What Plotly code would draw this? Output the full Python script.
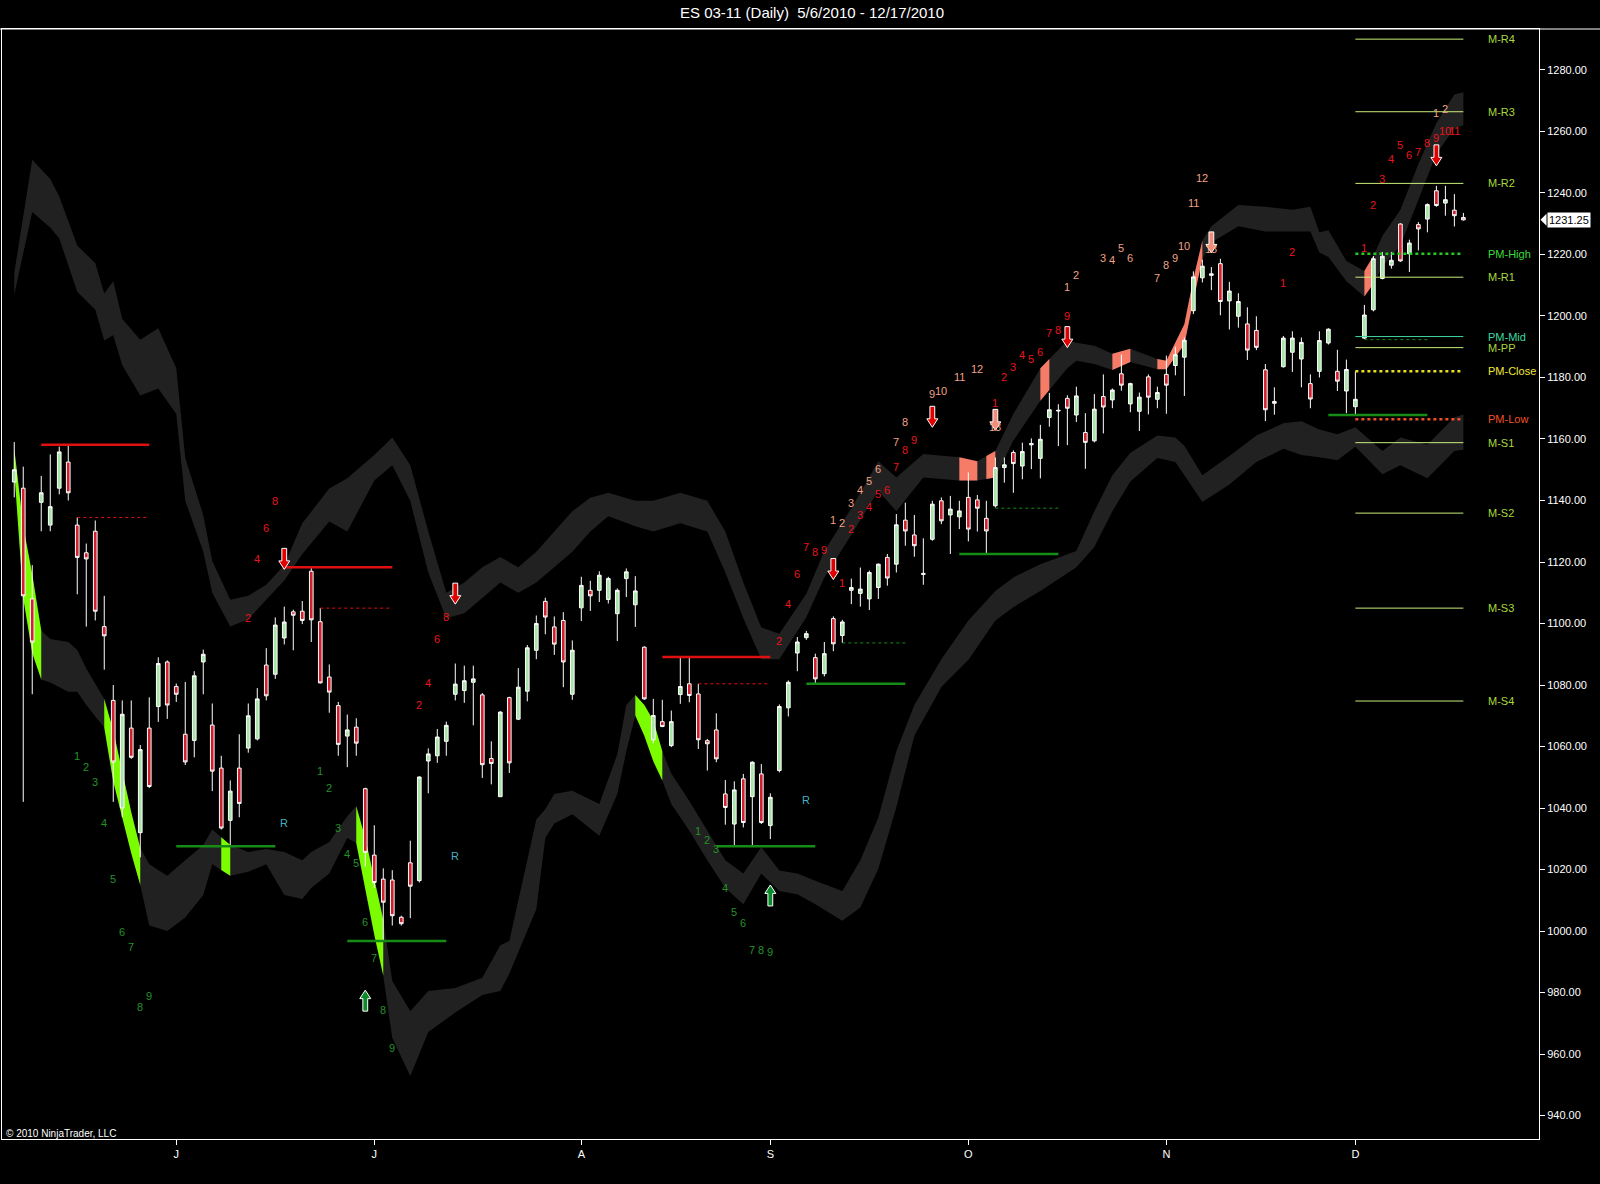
import numpy as np
import plotly.graph_objects as go

# ---------------- data ----------------
opens = [
    1146, 1144, 1108, 1139.4, 1132, 1144, 1152.5, 1132, 1123, 1130,
    1099, 1075, 1040, 1066, 1032, 1066, 1073, 1087.5, 1079.5, 1064,
    1062, 1087.5, 1067, 1053, 1036, 1053, 1059.5, 1062.5, 1086.5, 1083.5,
    1095.3, 1103.8, 1104, 1117, 1100.6, 1082.6, 1073.3, 1063.4, 1066.3, 1046.3,
    1024.7, 1016.9, 1016.6, 1004.5, 1022.2, 1016.4, 1055.3, 1057, 1061.7, 1077,
    1078.2, 1080.9, 1076.8, 1056.1, 1043.7, 1075.9, 1068.9, 1078, 1091.3, 1107.2,
    1098.9, 1101, 1077, 1105.1, 1110.8, 1110.8, 1107.8, 1103.2, 1114.6, 1106.1,
    1092.3, 1062.2, 1068.1, 1060.3, 1076.9, 1080.4, 1077.1, 1061.9, 1065.4, 1044.6,
    1034.8, 1049.5, 1043.7, 1051.1, 1034.3, 1052.2, 1072.6, 1090.4, 1095.4, 1088.9,
    1083.7, 1101.6, 1096.1, 1110.8, 1109.8, 1108, 1111.7, 1121.5, 1119.3, 1133.6,
    1128.8, 1116.3, 1127.4, 1139.9, 1135.3, 1134.7, 1141, 1140.2, 1134.2, 1138.3,
    1150.7, 1155.6, 1151.2, 1158.1, 1153.7, 1167, 1169.1, 1173.2, 1167.8, 1162.1,
    1159.4, 1173.8, 1172.7, 1181.2, 1171.4, 1169, 1180.2, 1172.9, 1181, 1183.9,
    1186.6, 1201.7, 1212.4, 1213.2, 1217, 1204.9, 1199.9, 1197.4, 1195.3, 1182.5,
    1172.2, 1183.5, 1188.2, 1186, 1178, 1182, 1191.2, 1182, 1175.6, 1170.5,
    1192.8, 1202, 1212.2, 1216.5, 1229.9, 1220.2, 1229.7, 1231.5, 1240.7, 1236.7,
    1234.4, 1232,
]
highs = [
    1159, 1151, 1119, 1148, 1155, 1157.5, 1158, 1134.5, 1126, 1133.5,
    1109, 1080, 1075, 1075, 1060.5, 1076, 1089, 1088, 1080.5, 1081,
    1084.5, 1091.5, 1074, 1057, 1049, 1064, 1074, 1079, 1092, 1102,
    1105.5, 1104.5, 1107.3, 1118.3, 1105, 1086.7, 1074.5, 1070.4, 1069.2, 1046.6,
    1034.4, 1020.4, 1019.8, 1005, 1029.4, 1050.3, 1059.4, 1065.7, 1068.1, 1087,
    1086.3, 1086.3, 1077.4, 1061.7, 1071.5, 1076.2, 1085.5, 1093, 1102.6, 1108.4,
    1102.3, 1103.7, 1094.5, 1115.2, 1113.9, 1117, 1115.2, 1111.4, 1117.9, 1115.4,
    1092.6, 1075.5, 1075.2, 1071.7, 1089.3, 1089.3, 1080.4, 1062.5, 1070.8, 1049.1,
    1048.7, 1051.1, 1055.2, 1054.3, 1044.8, 1073.7, 1081.5, 1095.6, 1097.6, 1090.2,
    1094, 1102.3, 1101.2, 1114.6, 1118.2, 1117.2, 1119.5, 1122.6, 1135.6, 1139.3,
    1135.3, 1127.7, 1139.9, 1141, 1141.5, 1139.9, 1149.1, 1141.8, 1139.9, 1154,
    1154, 1156.3, 1158.8, 1160.2, 1164.6, 1175, 1171.3, 1174.2, 1177, 1168.4,
    1174.6, 1181, 1176.4, 1187.4, 1178.3, 1175.1, 1181, 1177, 1187.1, 1190,
    1193, 1214.5, 1218.3, 1215.9, 1218.6, 1211.1, 1207.4, 1202.8, 1199.9, 1184.4,
    1176.8, 1193.5, 1195, 1193, 1181, 1195, 1196, 1189, 1185.8, 1182,
    1203.6, 1219.5, 1220.8, 1220.8, 1230.1, 1224.8, 1230.5, 1236.6, 1242.3, 1242.3,
    1239.6, 1233.5,
]
lows = [
    1141, 1042, 1077, 1130, 1130, 1142, 1140, 1109.5, 1099, 1101,
    1085, 1042, 1037, 1056, 1024, 1046.5, 1068, 1069, 1074.5, 1054,
    1056.5, 1077, 1045.5, 1033, 1027.5, 1037, 1058, 1062, 1075, 1082,
    1093.2, 1091.3, 1099.8, 1094, 1080.5, 1071, 1057, 1053.3, 1057, 1021,
    1014, 996.6, 1001.8, 1001.8, 1004.2, 1015.8, 1044.8, 1054.7, 1057, 1075,
    1074.2, 1066.9, 1049.8, 1047.7, 1043.7, 1051.4, 1068.6, 1074.7, 1088.4, 1096.5,
    1089.8, 1079.3, 1075.2, 1100.8, 1104.1, 1107, 1106.5, 1094.3, 1108.6, 1098.9,
    1075.2, 1061.1, 1066.3, 1059.8, 1073.9, 1074.4, 1059.2, 1052.2, 1054.9, 1034.6,
    1027.7, 1033.7, 1027.7, 1034.8, 1029.9, 1051.6, 1069.8, 1084.5, 1094.7, 1080.2,
    1082.8, 1091, 1093.7, 1106.3, 1105.5, 1104.4, 1108, 1112.3, 1116.6, 1125.3,
    1121.7, 1112.6, 1126.9, 1132.3, 1122.6, 1130.7, 1126.7, 1129.9, 1122.4, 1137.7,
    1145.8, 1142.5, 1146.9, 1150.2, 1147.2, 1164, 1157.7, 1158, 1165.5, 1150.3,
    1158.9, 1161.8, 1170, 1175.7, 1168.7, 1162.6, 1168, 1170, 1168.2, 1180.7,
    1174, 1200.6, 1210.9, 1208.4, 1200.2, 1195.6, 1196.2, 1185.7, 1188.9, 1165.8,
    1167.9, 1183.2, 1181.8, 1176.8, 1170, 1180, 1190.7, 1175.6, 1168.4, 1167.8,
    1192.5, 1201.5, 1211.9, 1215.4, 1217.6, 1214.3, 1221.3, 1227.2, 1235.5, 1232.6,
    1229.1, 1231,
]
closes = [
    1150, 1109, 1094, 1142.5, 1138, 1155.8, 1142.5, 1121.5, 1121, 1104,
    1096, 1055, 1070.5, 1056.5, 1059, 1047, 1087, 1073.5, 1077, 1055,
    1083, 1090, 1052, 1033.5, 1045.5, 1041.5, 1070, 1075.5, 1076.5, 1099.5,
    1100.5, 1102.7, 1101, 1101.2, 1080.7, 1077.7, 1060.7, 1065.4, 1061.1, 1025.6,
    1015.8, 1009.4, 1005, 1002.4, 1014.6, 1050.1, 1057.6, 1063.1, 1066.9, 1080.3,
    1081.4, 1082, 1054.1, 1054.5, 1071.2, 1054.7, 1079.3, 1092.1, 1100, 1102.1,
    1093.3, 1087.5, 1091.3, 1112.4, 1109, 1115.7, 1114.6, 1110.8, 1116.8, 1110.6,
    1075.5, 1070.1, 1066.5, 1068.1, 1079.5, 1076.6, 1062.2, 1060.9, 1056, 1040.2,
    1045.9, 1035.3, 1054.9, 1035.3, 1043.5, 1073, 1080.9, 1094, 1096.7, 1082,
    1090.2, 1093.4, 1100.5, 1111.7, 1111.2, 1116.6, 1119.3, 1114.8, 1132.1, 1130.1,
    1125.3, 1116, 1138.8, 1133.4, 1137.2, 1136.6, 1130.7, 1137.5, 1130.1, 1150.7,
    1151.6, 1152, 1155.9, 1158.5, 1159.9, 1169.5, 1169.3, 1170, 1174, 1158.9,
    1169.7, 1170.4, 1175.9, 1177.5, 1178, 1173.6, 1173.6, 1175.1, 1177.5, 1187.4,
    1192.1, 1212.7, 1216.2, 1213.7, 1204.7, 1208.1, 1204.7, 1188.9, 1189.8, 1169.5,
    1171.6, 1192.8, 1192.8, 1191.4, 1173, 1192, 1195.7, 1178.8, 1182.6, 1172.9,
    1200.3, 1218.6, 1219.4, 1218.1, 1217.9, 1223.7, 1228.3, 1236.2, 1235.9, 1237.8,
    1232.6, 1231.25,
]
bars = list(range(len(closes)))

month_ticks = [18, 40, 63, 84, 106, 128, 149]
month_labels = ["J", "J", "A", "S", "O", "N", "D"]
price_ticks = list(range(940, 1281, 20))

# upper band (bar, top, bottom)
ub_bar = [0, 2, 4, 5, 7, 9, 10, 11, 12, 14, 16, 18, 19, 21, 22, 24, 26, 28, 30, 32,
          35, 37, 40, 42, 44, 46, 48, 50, 52, 54, 56, 58, 62, 64, 66, 69, 71, 74, 77, 79,
          81, 83, 85, 88, 90, 93, 96, 98, 101, 105, 107, 109, 111, 114, 117, 118, 120, 122, 124, 127,
          128, 130, 131, 132, 133, 136, 139, 142, 144, 145, 146, 148, 150, 151, 152, 154, 156, 158, 160, 161]
ub_top = [1214, 1250.8, 1244.5, 1238.8, 1222.9, 1217.2, 1207.3, 1211.3, 1199, 1192.3, 1196, 1183, 1153.8, 1135.2, 1120.3, 1107.7, 1109, 1112.6, 1119, 1132.6,
          1143.9, 1147.2, 1154.8, 1160.5, 1151.5, 1129.9, 1110, 1113.3, 1118.3, 1121.6, 1118.3, 1123.3, 1136.5, 1140.9, 1142.5, 1139.9, 1139.9, 1142.5, 1139.9, 1129.9,
          1113.3, 1098.7, 1096.7, 1109.7, 1123.6, 1137.5, 1152.8, 1147.5, 1155.1, 1154.1, 1152.8, 1156.1, 1168.1, 1183, 1192, 1191.3, 1190.3, 1187.7, 1189.3, 1186,
          1185.4, 1197.3, 1212, 1224.5, 1229.2, 1236.1, 1235.5, 1234.5, 1235.5, 1227.2, 1227.9, 1217.9, 1214.6, 1219.5, 1226, 1234.5, 1249.4, 1262.7, 1272, 1272.7]
ub_bot = [1207, 1233.8, 1228.8, 1225.2, 1207.9, 1202, 1192, 1193.7, 1184, 1174.1, 1176.4, 1168.1, 1139.9, 1123.3, 1110, 1099, 1101.4, 1107.7, 1114, 1122.6,
          1133.2, 1129.9, 1146.5, 1151.5, 1139.9, 1116.6, 1101.7, 1103.3, 1108.3, 1113.3, 1110, 1113.3, 1123.3, 1129.9, 1134.9, 1131.6, 1129.9, 1132.6, 1129.9, 1116.6,
          1101.7, 1088.4, 1088.4, 1102, 1115, 1128.9, 1143.2, 1136.5, 1147.5, 1146.5, 1146.5, 1147.5, 1159.5, 1172.4, 1183, 1185.4, 1184.4, 1182.4, 1185, 1182.7,
          1182.7, 1190.7, 1205, 1218.5, 1223.9, 1229.2, 1227.5, 1227.5, 1227.5, 1220.6, 1219.2, 1211.3, 1206.3, 1210.5, 1216, 1222.9, 1237.8, 1252.7, 1261, 1262]

# lower band (bar, top, bottom)
lb_bar = [0, 1, 2, 3, 4, 6, 7, 8, 10, 11, 12, 13, 14, 15, 17, 19, 21, 22, 24, 26,
          28, 30, 32, 33, 35, 37, 38, 39, 40, 41, 42, 44, 46, 49, 52, 54, 55, 58, 59, 60,
          62, 65, 67, 68, 69, 70, 71, 72, 73, 75, 77, 79, 81, 83, 85, 87, 89, 92, 94, 96,
          98, 100, 103, 106, 109, 111, 114, 118, 120, 122, 124, 127, 129, 130, 132, 135, 138, 141, 143, 145,
          147, 149, 152, 154, 157, 160, 161]
lb_top = [1157, 1131.6, 1116, 1097.7, 1095, 1094, 1091.4, 1085.4, 1075.5, 1065.2, 1051.9, 1038.6, 1027, 1021.7, 1018, 1023, 1028, 1033, 1028, 1025.7,
          1026.7, 1025.7, 1023, 1025.7, 1029, 1037.3, 1040.6, 1030.3, 1017, 1003.7, 983.8, 973.9, 980.5, 981.5, 984.8, 995.4, 996.8, 1036.3, 1039.6, 1044.6,
          1045.6, 1041.3, 1057.5, 1073.5, 1076.8, 1073.5, 1068.5, 1058.5, 1051.2, 1042.3, 1032.6, 1023, 1018.7, 1027.3, 1019.7, 1018.7, 1016.4, 1013, 1023, 1036.9,
          1058.5, 1073.5, 1088.4, 1101, 1110.6, 1115, 1119.3, 1123.6, 1136.5, 1148.2, 1155.5, 1161.1, 1160.5, 1157.8, 1148.2, 1154.5, 1161.1, 1165.1, 1165.8, 1163.1,
          1161.5, 1163.8, 1156.1, 1160.5, 1158.1, 1167.1, 1168]
lb_bot = [1150, 1108.3, 1090.4, 1081.8, 1080.8, 1077.8, 1077.8, 1073.5, 1066.2, 1048.6, 1036.9, 1025.3, 1015, 1001.8, 1000, 1004.4, 1011.7, 1021.7, 1018, 1019.3,
          1021.7, 1011.7, 1010.4, 1014, 1018.7, 1030.3, 1028.6, 1013.7, 998.8, 985.5, 965.2, 952.9, 967.2, 973.5, 979.2, 980.5, 986.1, 1007.1, 1030.3, 1035,
          1038, 1031, 1044.6, 1058.5, 1070.1, 1063.5, 1055.2, 1049, 1041.3, 1032.6, 1023, 1014, 1008.7, 1018.7, 1013, 1012, 1008.7, 1003.4, 1007.7, 1020.3,
          1040.3, 1063.5, 1079.4, 1088.1, 1101, 1105.3, 1110.6, 1118.3, 1124.9, 1136.5, 1146.2, 1153.8, 1152.5, 1148.2, 1139.5, 1145.2, 1152.5, 1156.8, 1154.8, 1154.1,
          1153.1, 1157.5, 1148.5, 1151.5, 1147.2, 1156.1, 1156.5]

green_segments = [(0, 3), (10, 14), (23, 24), (38, 41), (69, 72)]
salmon_segments = [(105, 107), (108, 109), (114, 115), (122, 124), (127, 132), (150, 151)]

# TD counts (bar, price, label)
green_counts = [(7, 1056.9, "1"), (8, 1053.5, "2"), (9, 1048.6, "3"), (10, 1035, "4"), (11, 1017, "5"),
                (12, 999.8, "6"), (13, 994.8, "7"), (14, 975.2, "8"), (15, 978.8, "9"),
                (34, 1052.2, "1"), (35, 1046.6, "2"), (36, 1033.6, "3"), (37, 1025, "4"), (38, 1022, "5"),
                (39, 1003.1, "6"), (40, 991.1, "7"), (41, 974.5, "8"), (42, 961.9, "9"),
                (76, 1032.6, "1"), (77, 1029.6, "2"), (78, 1026.7, "3"), (79, 1014, "4"), (80, 1006.1, "5"),
                (81, 1002.7, "6"), (82, 993.8, "7"), (83, 993.8, "8"), (84, 993.1, "9")]
red_counts = [(26, 1101.7, "2"), (27, 1121, "4"), (28, 1131.2, "6"), (29, 1139.9, "8"),
              (45, 1073.5, "2"), (46, 1080.8, "4"), (47, 1095, "6"), (48, 1102, "8"),
              (85, 1094.4, "2"), (86, 1106.3, "4"), (87, 1116, "6"), (88, 1124.9, "7"), (89, 1123.3, "8"), (90, 1123.9, "9"),
              (92, 1113.3, "1"), (93, 1130.6, "2"), (94, 1135.2, "3"), (95, 1137.9, "4"), (96, 1142.2, "5"),
              (97, 1143.5, "6"), (98, 1150.8, "7"), (99, 1156.5, "8"), (100, 1159.8, "9"),
              (109, 1171.7, "1"), (110, 1180, "2"), (111, 1183.4, "3"), (112, 1187.3, "4"), (113, 1186, "5"),
              (114, 1188.3, "6"), (115, 1194.6, "7"), (116, 1195.3, "8"), (117, 1200, "9"),
              (141, 1210.6, "1"), (142, 1220.9, "2"),
              (150, 1222.2, "1"), (151, 1236.1, "2"), (152, 1244.4, "3"), (153, 1251.1, "4"), (154, 1255.7, "5"),
              (155, 1252.4, "6"), (156, 1253.4, "7"), (157, 1256.1, "8"), (158, 1257.7, "9"), (159, 1260, "10"), (160, 1260, "11")]
salmon_counts = [(91, 1133.6, "1"), (92, 1132.6, "2"), (93, 1139.2, "3"), (94, 1143.5, "4"), (95, 1146.2, "5"),
                 (96, 1150.2, "6"), (98, 1159.1, "7"), (99, 1165.4, "8"), (102, 1174.7, "9"), (103, 1175.7, "10"),
                 (105, 1180, "11"), (107, 1182.7, "12"), (109, 1163.8, "13"),
                 (117, 1209.3, "1"), (118, 1213.2, "2"), (121, 1218.9, "3"), (122, 1218.2, "4"), (123, 1222.2, "5"),
                 (124, 1218.9, "6"), (127, 1212.2, "7"), (128, 1216.6, "8"), (129, 1218.9, "9"), (130, 1222.9, "10"),
                 (131, 1236.8, "11"), (132, 1244.8, "12"), (133, 1221.9, "13"),
                 (158, 1266, "1"), (159, 1267.4, "2")]
r_marks = [(30, 1035), (49, 1024.3), (88, 1042.6)]

# arrows (bar, tip price)
down_arrows_red = [(30, 1117.6), (49, 1106.3), (91, 1114.3), (102, 1163.8), (117, 1189.7), (158, 1248.8)]
down_arrows_pink = [(109, 1162.8), (133, 1220.5)]
up_arrows_green = [(39, 980.8), (84, 1015)]

# TDST lines (start bar, end bar, price)
red_solid = [(3, 15, 1158.1), (30, 42, 1118.3), (72, 84, 1089.1)]
red_dash = [(7, 15, 1134.5), (34, 42, 1105), (76, 84, 1080.4)]
green_solid = [(18, 29, 1027.6), (37, 48, 996.8), (78, 89, 1027.6), (88, 99, 1080.4), (105, 116, 1122.6), (146, 157, 1167.8)]
green_dash = [(92, 99, 1093.7), (109, 116, 1137.5), (150, 157, 1192.3)]

# monthly pivots
pivot_names = ["M-R4", "M-R3", "M-R2", "PM-High", "M-R1", "PM-Mid", "M-PP", "PM-Close", "PM-Low", "M-S1", "M-S2", "M-S3", "M-S4"]
pivot_values = [1290, 1266.4, 1243.1, 1220.2, 1212.6, 1193.3, 1189.7, 1182, 1166.4, 1158.8, 1135.9, 1105, 1074.8]
pivot_start, pivot_end = 149, 161
last_price = 1231.25

# ---------------- layout constants ----------------
W, H = 1600, 1184
ML, MR, MT, MB = 2, 61, 29, 45
X0, X1 = -1.36, 169.4
Y0, Y1 = 932.4, 1293.3
PW, PH = W - ML - MR, H - MT - MB
PX_X = PW / (X1 - X0)
PX_Y = PH / (Y1 - Y0)
FONT = "Liberation Sans, Arial, sans-serif"

BAND = "#212121"
LIME = "#7CFC00"
SALMON = "#F77C68"
RED_TXT = "#E8141E"
SALMON_TXT = "#F2A285"
GREEN_TXT = "#23912A"


def poly(xs, tops, bots):
    pts = list(zip(xs, tops)) + list(zip(xs[::-1], bots[::-1]))
    return "M " + " L ".join(f"{x:.3f},{y:.3f}" for x, y in pts) + " Z"


def seg_path(bx, top, bot, a, b):
    xs = [a] + [k for k in bx if a < k < b] + [b]
    return poly(xs, list(np.interp(xs, bx, top)), list(np.interp(xs, bx, bot)))


def arrow_path(i, p, up=False):
    s = 1 if up else -1  # direction of tip
    hw, sw, hh, tot = 5.5 / PX_X, 2.4 / PX_X, 8.5 / PX_Y, 21 / PX_Y
    pts = [(i, p), (i - hw, p - s * hh), (i - sw, p - s * hh), (i - sw, p - s * tot),
           (i + sw, p - s * tot), (i + sw, p - s * hh), (i + hw, p - s * hh)]
    return "M " + " L ".join(f"{x:.3f},{y:.3f}" for x, y in pts) + " Z"


shapes = []
shapes.append(dict(type="path", path=poly(ub_bar, ub_top, ub_bot), xref="x", yref="y",
                   fillcolor=BAND, line=dict(width=0), layer="below"))
shapes.append(dict(type="path", path=poly(lb_bar, lb_top, lb_bot), xref="x", yref="y",
                   fillcolor=BAND, line=dict(width=0), layer="below"))
for a, b in green_segments:
    shapes.append(dict(type="path", path=seg_path(lb_bar, lb_top, lb_bot, a, b), xref="x", yref="y",
                       fillcolor=LIME, line=dict(width=0), layer="below"))
for a, b in salmon_segments:
    shapes.append(dict(type="path", path=seg_path(ub_bar, ub_top, ub_bot, a, b), xref="x", yref="y",
                       fillcolor=SALMON, line=dict(width=0), layer="below"))
for i, p in down_arrows_red:
    shapes.append(dict(type="path", path=arrow_path(i, p), xref="x", yref="y",
                       fillcolor="#E00000", line=dict(color="white", width=1), layer="above"))
for i, p in down_arrows_pink:
    shapes.append(dict(type="path", path=arrow_path(i, p), xref="x", yref="y",
                       fillcolor="#F48A78", line=dict(color="white", width=1), layer="above"))
for i, p in up_arrows_green:
    shapes.append(dict(type="path", path=arrow_path(i, p, up=True), xref="x", yref="y",
                       fillcolor="#0B8A2A", line=dict(color="white", width=1), layer="above"))
# top border line across the full width
shapes.append(dict(type="line", xref="paper", yref="paper", x0=-0.01, x1=1.05, y0=1, y1=1,
                   line=dict(color="white", width=1)))
# last price tag pointer
tip = 1.0 + 1.5 / PW
base = 1.0 + 7.5 / PW
shapes.append(dict(type="path", xref="paper", yref="y",
                   path=f"M {tip:.5f},{last_price} L {base:.5f},{last_price + 6 / PX_Y:.3f} "
                        f"L {base:.5f},{last_price - 6 / PX_Y:.3f} Z",
                   fillcolor="white", line=dict(width=0)))

fig = go.Figure()

fig.add_trace(go.Candlestick(
    x=bars, open=opens, high=highs, low=lows, close=closes,
    increasing=dict(line=dict(color="white", width=1), fillcolor="#A8E4A8"),
    decreasing=dict(line=dict(color="white", width=1), fillcolor="#D0202E"),
    whiskerwidth=0, showlegend=False, hoverinfo="skip"))


def hline(a, b, v, color, width, dash="solid"):
    fig.add_trace(go.Scatter(x=[a, b], y=[v, v], mode="lines", showlegend=False, hoverinfo="skip",
                             line=dict(color=color, width=width, dash=dash)))


for a, b, v in red_solid:
    hline(a, b, v, "#E01010", 2.5)
for a, b, v in red_dash:
    hline(a, b, v, "#E01010", 1, "dot")
for a, b, v in green_solid:
    hline(a, b, v, "#168C16", 2.5)
for a, b, v in green_dash:
    hline(a, b, v, "#168C16", 1, "dot")

pivot_line_colors = {"PM-High": "#22CC22", "PM-Mid": "#3FD8A0", "PM-Close": "#E8E020", "PM-Low": "#F05028"}
pivot_label_colors = {"PM-High": "#3CDC3C", "PM-Mid": "#3FD8A0", "PM-Close": "#F0E838", "PM-Low": "#F05028"}
annotations = []
for name, v in zip(pivot_names, pivot_values):
    lc = pivot_line_colors.get(name, "#C8EE78")
    if name in ("PM-High", "PM-Close", "PM-Low"):
        hline(pivot_start, pivot_end, v, lc, 2.5, "dot")
    else:
        hline(pivot_start, pivot_end, v, lc, 1)
    annotations.append(dict(x=163.5, y=v, xref="x", yref="y", text=name, showarrow=False,
                            xanchor="left", yanchor="middle",
                            font=dict(family=FONT, size=11, color=pivot_label_colors.get(name, "#A8D83C"))))

for lst, col in ((green_counts, GREEN_TXT), (red_counts, RED_TXT), (salmon_counts, SALMON_TXT)):
    for i, p, t in lst:
        annotations.append(dict(x=i, y=p, xref="x", yref="y", text=t, showarrow=False,
                                xanchor="center", yanchor="middle",
                                font=dict(family=FONT, size=11, color=col)))
for i, p in r_marks:
    annotations.append(dict(x=i, y=p, xref="x", yref="y", text="R", showarrow=False,
                            xanchor="center", yanchor="middle",
                            font=dict(family=FONT, size=11, color="#47AFC2")))

annotations.append(dict(x=(812 - ML) / PW, y=1 + 16.5 / PH, xref="paper", yref="paper",
                        text="ES 03-11 (Daily)\u00a0\u00a05/6/2010 - 12/17/2010", showarrow=False,
                        xanchor="center", yanchor="middle", font=dict(family=FONT, size=15, color="white")))
annotations.append(dict(x=0.0015, y=6 / PH, xref="paper", yref="paper",
                        text="\u00a9 2010 NinjaTrader, LLC", showarrow=False,
                        xanchor="left", yanchor="middle", font=dict(family=FONT, size=10, color="white")))
annotations.append(dict(x=base, y=last_price, xref="paper", yref="y", text=f"{last_price:.2f}",
                        showarrow=False, xanchor="left", yanchor="middle", bgcolor="white",
                        borderpad=1, font=dict(family=FONT, size=11, color="black")))

fig.update_layout(
    width=W, height=H,
    margin=dict(l=ML, r=MR, t=MT, b=MB),
    paper_bgcolor="black", plot_bgcolor="black",
    showlegend=False, boxgap=0.42,
    shapes=shapes, annotations=annotations,
    font=dict(family=FONT, color="white", size=11),
    xaxis=dict(range=[X0, X1], tickvals=month_ticks, ticktext=month_labels,
               showgrid=False, zeroline=False, showline=True, linecolor="white", linewidth=1,
               mirror=True, ticks="outside", ticklen=5, tickcolor="white",
               tickfont=dict(family=FONT, size=11, color="white"),
               rangeslider=dict(visible=False), fixedrange=True),
    yaxis=dict(range=[Y0, Y1], side="right", tickvals=price_ticks, tickformat=".2f",
               showgrid=False, zeroline=False, showline=True, linecolor="white", linewidth=1,
               mirror=True, ticks="outside", ticklen=5, tickcolor="white",
               tickfont=dict(family=FONT, size=11, color="white"), fixedrange=True),
)

fig.write_html("out.html", config={"displayModeBar": False},
               post_script="document.body.style.margin='0';document.body.style.background='black';")
